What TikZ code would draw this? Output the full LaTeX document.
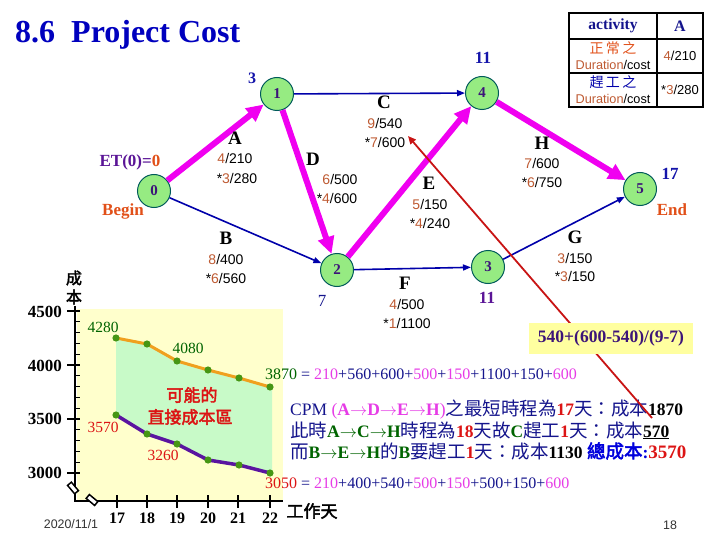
\documentclass[tikz,border=0pt]{standalone}
\usepackage{fontspec}
\setmainfont{Liberation Serif}
\newfontfamily\arial{Liberation Sans}
\newfontfamily\cjkbase{Noto Sans CJK TC}
\newfontfamily\cjkb[FakeBold=2.5]{Noto Sans CJK TC}
\usetikzlibrary{arrows.meta}
\definecolor{titleblue}{RGB}{0,0,190}
\definecolor{nodefill}{RGB}{150,235,130}
\definecolor{nodedraw}{RGB}{0,90,90}
\definecolor{numcol}{RGB}{60,20,120}
\definecolor{critmag}{RGB}{240,0,240}
\definecolor{edgeblue}{RGB}{0,0,170}
\definecolor{brownnum}{RGB}{190,90,50}
\definecolor{orred}{RGB}{225,80,25}
\definecolor{etpurple}{RGB}{90,20,150}
\definecolor{labblue}{RGB}{20,20,170}
\definecolor{dgreen}{RGB}{0,100,0}
\definecolor{txtred}{RGB}{220,20,20}
\definecolor{pinkm}{RGB}{230,60,230}
\definecolor{txtnavy}{RGB}{20,20,140}
\definecolor{chartyellow}{RGB}{255,255,204}
\definecolor{mint}{RGB}{200,250,200}
\definecolor{orangeline}{RGB}{240,160,30}
\definecolor{purpleline}{RGB}{90,20,160}
\definecolor{dotgreen}{RGB}{70,150,20}
\definecolor{redline}{RGB}{200,20,20}
\definecolor{boxyellow}{RGB}{255,255,160}
\definecolor{boxtext}{RGB}{60,20,120}
\definecolor{boldblue}{RGB}{0,0,220}
\newcommand{\dur}[2]{{\color{brownnum}#1}/#2}
\newcommand{\fs}[1]{\fontsize{#1}{#1}\selectfont}
\newcommand{\ra}{\ensuremath{\rightarrow}}
\newcommand{\cj}[1]{{\cjkbase\fs{18.5}#1}}
\begin{document}
\begin{tikzpicture}[x=1pt,y=-1pt,
  vert/.style={circle, draw=nodedraw, line width=1pt, fill=nodefill, minimum size=33pt, inner sep=0pt, font=\fs{15}\bfseries, text=numcol},
  crit/.style={line width=6pt, draw=critmag, -{Triangle[length=17pt,width=16pt]}},
  noncrit/.style={line width=1.6pt, draw=edgeblue, -{Triangle[length=8pt,width=6pt]}},
  elet/.style={font=\fs{19}\bfseries, inner sep=0pt},
  enum/.style={font=\arial\fs{14}, inner sep=0pt},
  txt/.style={inner sep=0pt},
  tabnum/.style={font=\arial\fs{13}, inner sep=0pt},
  ylab/.style={font=\fs{17}\bfseries, inner sep=0pt, anchor=east},
  xlab/.style={font=\fs{16}\bfseries, inner sep=0pt},
  clab/.style={font=\fs{15.5}, inner sep=0pt}
]
\useasboundingbox (0,0) rectangle (720,540);

% title
\node[txt, anchor=base west, font=\fs{32}\bfseries, text=titleblue] (title) at (15,43) {8.6\ \ Project Cost};

% table
\draw[line width=2pt] (569,13) rectangle (703,107);
\draw[line width=1.5pt] (657,13) -- (657,107) (569,39) -- (703,39) (569,73) -- (703,73);
\node[txt, font=\fs{15.5}\bfseries, text=txtnavy] (th1) at (613,26) {activity};
\node[txt, font=\fs{16}\bfseries, text=txtnavy] (th2) at (680,26) {A};
\node[txt, font=\cjkbase\fs{14}, text=orred] (t21) at (613,48) {正\,常\,之};
\node[txt, font=\arial\fs{12.7}] (t22) at (613,65) {{\color{brownnum}Duration}/cost};
\node[tabnum] (t23) at (680,56) {\dur{4}{210}};
\node[txt, font=\cjkbase\fs{14}, text=edgeblue] (t31) at (613,82) {趕\,工\,之};
\node[txt, font=\arial\fs{12.7}] (t32) at (613,99) {{\color{brownnum}Duration}/cost};
\node[tabnum] (t33) at (680,90) {*\dur{3}{280}};

% network nodes
\node[vert] (n0) at (154,191) {0};
\node[vert] (n1) at (277,94) {1};
\node[vert] (n2) at (337,270) {2};
\node[vert] (n3) at (488,267) {3};
\node[vert] (n4) at (482,93) {4};
\node[vert] (n5) at (640,189) {5};

% edges
\draw[noncrit] (n0) -- (n2);
\draw[noncrit] (n1) -- (n4);
\draw[noncrit] (n2) -- (n3);
\draw[noncrit] (n3) -- (n5);
\draw[crit] (n0) -- (n1);
\draw[crit] (n1) -- (n2);
\draw[crit] (n2) -- (n4);
\draw[crit] (n4) -- (n5);

% node side labels
\node[txt, font=\fs{16}\bfseries, text=labblue] (l1) at (252,78) {3};
\node[txt, font=\fs{17}\bfseries, text=labblue] (l4) at (483,58) {11};
\node[txt, font=\fs{17}\bfseries, text=etpurple] (l0a) at (130,162) {ET(0)={\color{orred}0}};
\node[txt, font=\fs{17}\bfseries, text=orred] (l0b) at (123,211) {Begin};
\node[txt, font=\fs{17}, text=txtnavy] (l2) at (322,301) {7};
\node[txt, font=\fs{17}\bfseries, text=etpurple] (l3) at (487,298) {11};
\node[txt, font=\fs{17}\bfseries, text=labblue] (l5a) at (670,174) {17};
\node[txt, font=\fs{17}\bfseries, text=orred] (l5b) at (672,210) {End};

% edge labels
\node[elet] (aA) at (235,138) {A};
\node[enum] (aA1) at (235,158) {\dur{4}{210}};
\node[enum] (aA2) at (237,178) {*\dur{3}{280}};
\node[elet] (aB) at (226,238) {B};
\node[enum] (aB1) at (226,259) {\dur{8}{400}};
\node[enum] (aB2) at (226,278) {*\dur{6}{560}};
\node[elet] (aC) at (384,102) {C};
\node[enum] (aC1) at (385,123) {\dur{9}{540}};
\node[enum] (aC2) at (385,142) {*\dur{7}{600}};
\node[elet] (aD) at (313,159) {D};
\node[enum] (aD1) at (340,179) {\dur{6}{500}};
\node[enum] (aD2) at (337,198) {*\dur{4}{600}};
\node[elet] (aE) at (429,183) {E};
\node[enum] (aE1) at (430,204) {\dur{5}{150}};
\node[enum] (aE2) at (430,223) {*\dur{4}{240}};
\node[elet] (aF) at (405,283) {F};
\node[enum] (aF1) at (407,304) {\dur{4}{500}};
\node[enum] (aF2) at (407,323) {*\dur{1}{1100}};
\node[elet] (aG) at (575,237) {G};
\node[enum] (aG1) at (575,258) {\dur{3}{150}};
\node[enum] (aG2) at (575,276) {*\dur{3}{150}};
\node[elet] (aH) at (542,143) {H};
\node[enum] (aH1) at (542,163) {\dur{7}{600}};
\node[enum] (aH2) at (542,182) {*\dur{6}{750}};

% chart background
\fill[chartyellow] (77,309) rectangle (283,500);
\coordinate (u17) at (116,338); \coordinate (u18) at (147,344); \coordinate (u19) at (177,361);
\coordinate (u20) at (208,370); \coordinate (u21) at (239,378); \coordinate (u22) at (270,387);
\coordinate (d17) at (116,415); \coordinate (d18) at (147,434); \coordinate (d19) at (177,444);
\coordinate (d20) at (208,460); \coordinate (d21) at (239,465); \coordinate (d22) at (270,473);
\fill[mint] (u17) -- (u18) -- (u19) -- (u20) -- (u21) -- (u22) -- ([xshift=2pt]u22) -- ([xshift=2pt]d22) -- (d22) -- (d21) -- (d20) -- (d19) -- (d18) -- (d17) -- cycle;
\draw[orangeline, line width=3pt, line join=round] (u17) -- (u18) -- (u19) -- (u20) -- (u21) -- (u22);
\draw[purpleline, line width=3.5pt, line join=round] (d17) -- (d18) -- (d19) -- (d20) -- (d21) -- (d22);
\foreach \p in {u17,u18,u19,u20,u21,u22,d17,d18,d19,d20,d21,d22}
  \fill[dotgreen] (\p) circle (3.6pt);

% axes
\draw[line width=2pt] (75,306) -- (75,501) -- (283,501);
\foreach \v in {3000,3100,...,4500}
  \draw[line width=1.2pt] (75,{473-(\v-3000)*0.108}) -- (80,{473-(\v-3000)*0.108});
\foreach \v in {3000,3500,4000,4500}
  \draw[line width=1.2pt] (67,{473-(\v-3000)*0.108}) -- (80,{473-(\v-3000)*0.108});
\foreach \x in {117,147,177,208,238,270}
  \draw[line width=1.2pt] (\x,495) -- (\x,508);
\node[draw, fill=white, line width=1.5pt, minimum width=11pt, minimum height=5pt, inner sep=0pt, rotate=-50] (brk1) at (73,488) {};
\node[draw, fill=white, line width=1.5pt, minimum width=11pt, minimum height=5pt, inner sep=0pt, rotate=-40] (brk2) at (92,500) {};

\node[ylab] (y45) at (62,312) {4500};
\node[ylab] (y40) at (62,366) {4000};
\node[ylab] (y35) at (62,419) {3500};
\node[ylab] (y30) at (62,473) {3000};
\node[xlab] (x17) at (117,518) {17};
\node[xlab] (x18) at (147,518) {18};
\node[xlab] (x19) at (177,518) {19};
\node[xlab] (x20) at (208,518) {20};
\node[xlab] (x21) at (238,518) {21};
\node[xlab] (x22) at (270,518) {22};
\node[txt, font=\cjkb\fs{17}] (xt) at (312,511) {工作天};
\node[txt, font=\cjkb\fs{16}] (yt1) at (74,278) {成};
\node[txt, font=\cjkb\fs{16}] (yt2) at (74,297) {本};

\node[clab, text=dgreen] (c4280) at (103,327) {4280};
\node[clab, text=dgreen] (c4080) at (188,348) {4080};
\node[clab, text=txtred] (c3570) at (103,427) {3570};
\node[clab, text=txtred] (c3260) at (163,455) {3260};
\node[txt, font=\cjkb\fs{17}, text=txtred] (rg1) at (192,395) {可能的};
\node[txt, font=\cjkb\fs{17}, text=txtred] (rg2) at (190,417) {直接成本區};

% sums
\node[txt, anchor=base west, font=\fs{16}, text=txtnavy] (sum1) at (265,379) {{\color{dgreen}3870} = {\color{pinkm}210}+560+600+{\color{pinkm}500}+{\color{pinkm}150}+1100+150+{\color{pinkm}600}};
\node[txt, anchor=base west, font=\fs{16}, text=txtnavy] (sum2) at (265,488) {{\color{txtred}3050} = {\color{pinkm}210}+400+540+{\color{pinkm}500}+{\color{pinkm}150}+500+150+{\color{pinkm}600}};

% explanation lines
\node[txt, anchor=base west, font=\fs{17.5}, text=txtnavy] (cpm1) at (290,415) {CPM {\color{pinkm}(\textbf{A\ra D\ra E\ra H})}\cj{之最短時程為}\textbf{\color{txtred}17}\cj{天：成本}\textbf{\color{black}1870}};
\node[txt, anchor=base west, font=\fs{17.5}, text=txtnavy] (cpm2) at (290,437) {\cj{此時}\textbf{\color{dgreen}A\ra C\ra H}\cj{時程為}\textbf{\color{txtred}18}\cj{天故}\textbf{\color{dgreen}C}\cj{趕工}\textbf{\color{txtred}1}\cj{天：成本}\textbf{\color{black}\underline{570}}};
\node[txt, anchor=base west, font=\fs{17.5}, text=txtnavy] (cpm3) at (290,458) {\cj{而}\textbf{\color{dgreen}B\ra E\ra H}\cj{的}\textbf{\color{dgreen}B}\cj{要趕工}\textbf{\color{txtred}1}\cj{天：成本}\textbf{\color{black}1130} {\cjkb\fs{18.5}\color{boldblue}總成本}\textbf{\color{boldblue}:}{\bfseries\color{txtred}\fs{19}3570}};

% red pointer line and formula box
\coordinate (rl1) at (652,418);
\coordinate (rl2) at (408,136);
\draw[redline, line width=1.8pt, -{Triangle[length=8pt,width=7pt]}] (rl1) -- (rl2);
\node[fill=boxyellow, minimum width=164pt, minimum height=31pt, inner sep=0pt, font=\fs{17.5}\bfseries, text=boxtext] (formula) at (611,338.5) {540+(600-540)/(9-7)};

% footer
\node[txt, font=\arial\fs{12.4}, text=black!80] (date) at (71,524) {2020/11/1};
\node[txt, font=\arial\fs{12.4}, text=black!80] (page) at (670,525) {18};
\end{tikzpicture}
\end{document}
